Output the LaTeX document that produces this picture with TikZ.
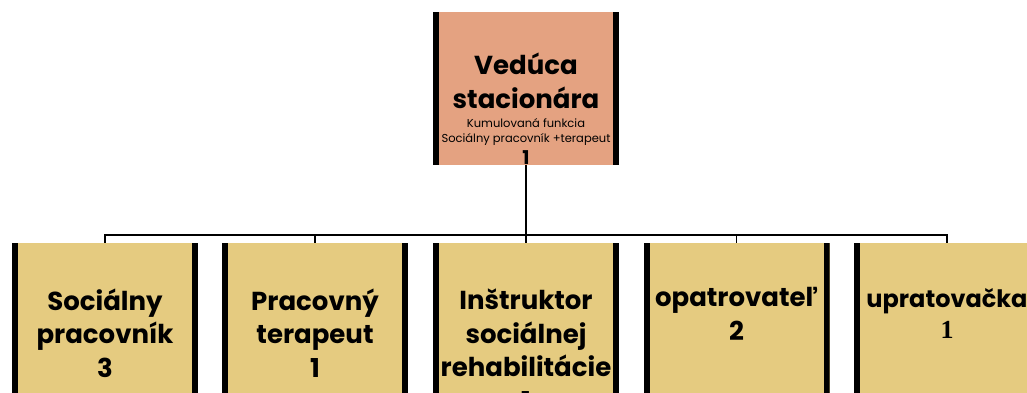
\documentclass[tikz,border=0pt]{standalone}
\usepackage{fontspec}
\setmainfont{Poppins}
\newfontfamily\serifone{Liberation Serif}
\definecolor{headfill}{RGB}{228,162,129}
\definecolor{stafffill}{RGB}{229,203,128}
\tikzset{
  orgbox/.style={rectangle, draw=none, inner sep=0pt, minimum width=186pt,
    path picture={
      \fill[black] (path picture bounding box.north west) rectangle ([xshift=6pt]path picture bounding box.south west);
      \fill[black] (path picture bounding box.north east) rectangle ([xshift=-6pt]path picture bounding box.south east);
    }},
  headbox/.style={orgbox, fill=headfill, minimum height=153pt},
  staffbox/.style={orgbox, fill=stafffill, minimum height=180pt},
  bigtext/.style={font=\fontsize{26}{33.5}\selectfont\bfseries, align=center, inner sep=0pt, anchor=base},
  smalltext/.style={font=\fontsize{11.5}{15}\selectfont, align=center, inner sep=0pt, anchor=base},
  conn/.style={draw=black, line width=1.6pt}
}
\begin{document}
\begin{tikzpicture}[x=1pt,y=-1pt]
\useasboundingbox (0,0) rectangle (1027,392);
% boxes
\node[headbox] (head) at (526,88.5) {};
\node[staffbox] (b1) at (105,333) {};
\node[staffbox] (b2) at (315,333) {};
\node[staffbox] (b3) at (526,333) {};
\node[staffbox] (b4) at (736.5,333) {};
\node[staffbox] (b5) at (947,333) {};
% connectors
\coordinate (bus) at (526,235);
\draw[conn] (head.south) -- (bus);
\foreach \b in {b1,b2,b3,b4,b5} { \draw[conn] (bus) -| (\b.north); }
% texts
\node[bigtext] (t0) at (526,108) {Vedúca\\stacionára};
\node[smalltext] (t0s) at (526,142) {Kumulovaná funkcia\\Sociálny pracovník +terapeut};
\node[bigtext, font=\fontsize{19}{20}\selectfont\bfseries] (t0n) at (526,164.5) {1};
\node[bigtext] (t1) at (105,377) {Sociálny\\pracovník\\3};
\node[bigtext] (t2) at (315,377) {Pracovný\\terapeut\\1};
\node[bigtext] (t3) at (526,410) {Inštruktor\\sociálnej\\rehabilitácie\\1};
\node[bigtext] (t4) at (736.5,340) {opatrovateľ\\2};
\node[bigtext, font=\fontsize{24}{31}\selectfont\bfseries] (t5) at (947,338) {upratovačka\\{\serifone\bfseries\fontsize{26}{31}\selectfont 1}};
\end{tikzpicture}
\end{document}
